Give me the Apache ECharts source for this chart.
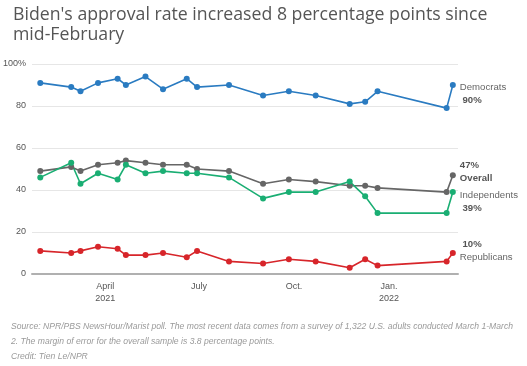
<!DOCTYPE html>
<html><head><meta charset="utf-8">
<script src="https://cdn.jsdelivr.net/npm/echarts@6/dist/echarts.min.js"></script>
<style>html,body{margin:0;padding:0;background:#fff}#c{width:527px;height:366px}</style>
</head><body><div id="c"></div>
<script>
var pollDates = ['2021-01-28','2021-02-27','2021-03-08','2021-03-25','2021-04-13','2021-04-21','2021-05-10','2021-05-27','2021-06-19','2021-06-29','2021-07-30','2021-09-01','2021-09-26','2021-10-22','2021-11-24','2021-12-09','2021-12-21','2022-02-26','2022-03-04'];
var democrats    = [91,89,87,91,93,90,94,88,93,89,90,85,87,85,81,82,87,79,90];
var overall      = [49,51,49,52,53,54,53,52,52,50,49,43,45,44,42,42,41,39,47];
var independents = [46,53,43,48,45,52,48,49,48,48,46,36,39,39,44,37,29,29,39];
var republicans  = [11,10,11,13,12,9,9,10,8,11,6,5,7,6,3,7,4,6,10];
var xTicks = ['2021-04-01','2021-07-01','2021-10-01','2022-01-01'];
var xTickLabels = ['April\n2021','July','Oct.','Jan.\n2022'];

function ts(s){var p=s.split('-');return Date.UTC(+p[0],+p[1]-1,+p[2]);}
function pairs(vals){return pollDates.map(function(d,i){return [ts(d),vals[i]];});}
var tickTs = xTicks.map(ts);

var chart = echarts.init(document.getElementById('c'), null, {renderer:'canvas'});
var font = '"Liberation Sans", Arial, sans-serif';

function mkSeries(name, vals, color, labelFmt, offset){
  var data = pairs(vals).map(function(p,i){
    var item = {value:p};
    if(i===vals.length-1){
      item.label = {show:true, position:'right', distance:4, offset:offset,
        formatter:labelFmt, fontFamily:font, fontSize:9.6, color:'#666', lineHeight:13,
        rich:{b:{fontWeight:'bold', fontSize:9.6, color:'#555', fontFamily:font, lineHeight:13},
              n:{fontSize:9.6, color:'#666', fontFamily:font, lineHeight:13}}};
    }
    return item;
  });
  return {name:name, type:'line', data:data, symbol:'circle', symbolSize:6,
    lineStyle:{color:color,width:1.6}, itemStyle:{color:color}, animation:false, z:3};
}

var option = {
  animation:false,
  title:[{
    text:"Biden's approval rate increased 8 percentage points since\nmid-February",
    left:8, top:0,
    textStyle:{fontFamily:'"Open Sans", "Noto Sans", sans-serif', fontSize:17.7, fontWeight:'normal', color:'#555', lineHeight:20}
  },{
    text:'Source: NPR/PBS NewsHour/Marist poll. The most recent data comes from a survey of 1,322 U.S. adults conducted March 1-March\n2. The margin of error for the overall sample is 3.8 percentage points.\nCredit: Tien Le/NPR',
    left:6, top:314,
    textStyle:{fontFamily:font, fontSize:8.6, fontStyle:'italic', fontWeight:'normal', color:'#9a9a9a', lineHeight:15}
  }],
  grid:{left:32, right:69, top:64, bottom:92},
  xAxis:{type:'value', min:ts('2021-01-20'), max:ts('2022-03-09'),
    axisLine:{show:true, lineStyle:{color:'#b0b0b0', width:2}},
    axisTick:{show:false},
    splitLine:{show:false},
    axisLabel:{customValues:tickTs, fontFamily:font, fontSize:9, color:'#555', margin:7, lineHeight:12,
      formatter:function(v){var i=tickTs.indexOf(v);return i>=0?xTickLabels[i]:'';}}
  },
  yAxis:{type:'value', min:0, max:100, interval:20,
    axisLine:{show:false}, axisTick:{show:false},
    splitLine:{lineStyle:{color:'#e6e6e6', width:1}},
    axisLabel:{fontFamily:font, fontSize:9, color:'#555', margin:6,
      formatter:function(v){return v===100?'100%':String(v);}}
  },
  series:[
    mkSeries('Democrats', democrats, '#2a7bc1', function(){return '{n|Democrats}\n{b| '+democrats[democrats.length-1]+'%}';}, [0,9]),
    mkSeries('Overall', overall, '#666666', function(){return '{b|'+overall[overall.length-1]+'%}\n{b|Overall}';}, [0,-3]),
    mkSeries('Independents', independents, '#1aae73', function(){return '{n|Independents}\n{b| '+independents[independents.length-1]+'%}';}, [0,9.5]),
    mkSeries('Republicans', republicans, '#d7252a', function(){return '{b| '+republicans[republicans.length-1]+'%}\n{n|Republicans}';}, [0,-2])
  ]
};
chart.setOption(option);
</script></body></html>
